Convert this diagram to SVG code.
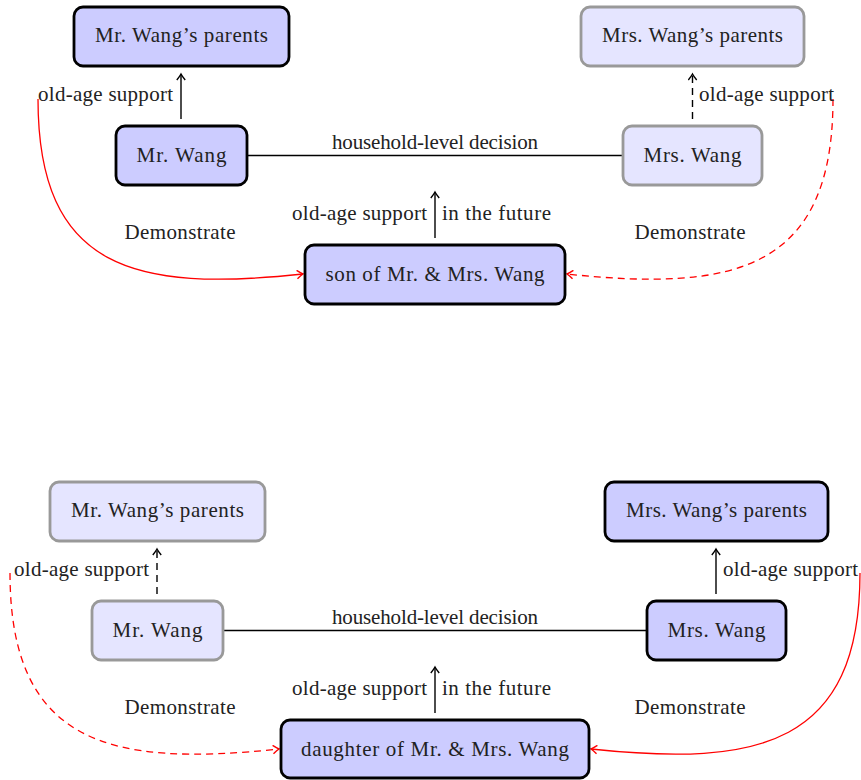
<svg xmlns="http://www.w3.org/2000/svg" width="861" height="780" viewBox="0 0 861 780">
<style>
text{font-family:'Liberation Serif','Times New Roman','DejaVu Serif',serif;font-size:21px;fill:#222}
.c{text-anchor:middle}
.e{text-anchor:end}
.dark{fill:#ccccff;stroke:#000;stroke-width:2.8}
.light{fill:#e5e5ff;stroke:#999;stroke-width:2.8}
.k{stroke:#000;stroke-width:1.4;fill:none}
.r{stroke:#ff0000;stroke-width:1.3;fill:none}
.d{stroke-dasharray:7,5}
</style>
<defs>
<marker id="ak" viewBox="-8 -5 10 10" refX="0" refY="0" markerWidth="10" markerHeight="10" orient="auto" markerUnits="userSpaceOnUse">
<path d="M-6,-4.2 Q-2,-1 0,0 Q-2,1 -6,4.2" fill="none" stroke="#000" stroke-width="1.4" stroke-dasharray="none"/>
</marker>
<marker id="ar" viewBox="-8 -5 10 10" refX="0" refY="0" markerWidth="10" markerHeight="10" orient="auto" markerUnits="userSpaceOnUse">
<path d="M-6,-4.2 Q-2,-1 0,0 Q-2,1 -6,4.2" fill="none" stroke="#ff0000" stroke-width="1.4" stroke-dasharray="none"/>
</marker>
</defs>

<g id="connectors">
<line class="k" x1="247" y1="155.5" x2="623" y2="155.5"/>
<path class="k" d="M181,119 V74" marker-end="url(#ak)"/>
<path class="k d" d="M692.5,119 V74" marker-end="url(#ak)"/>
<path class="k" d="M435,238 V192" marker-end="url(#ak)"/>
<path class="r" d="M38,99 C38,270 135,292 303,274" marker-end="url(#ar)"/>
<path class="r d" d="M833,99 C833,270 735,292 567,274" marker-end="url(#ar)"/>
<line class="k" x1="223" y1="630.5" x2="647" y2="630.5"/>
<path class="k d" d="M157,594 V549" marker-end="url(#ak)"/>
<path class="k" d="M716,594 V549" marker-end="url(#ak)"/>
<path class="k" d="M435,713 V667" marker-end="url(#ak)"/>
<path class="r d" d="M10,573 C10,745 111,767 279,749" marker-end="url(#ar)"/>
<path class="r" d="M860,573 C860,745 759,767 591,749" marker-end="url(#ar)"/>
</g>

<g id="labels">
<text x="435" y="149" class="c" textLength="206">household-level decision</text>
<text x="38" y="101" textLength="135">old-age support</text>
<text x="699" y="101" textLength="135">old-age support</text>
<text x="427" y="220" class="e" textLength="135">old-age support</text>
<text x="442" y="220" textLength="109">in the future</text>
<text x="180" y="239" class="c" textLength="111">Demonstrate</text>
<text x="690" y="239" class="c" textLength="111">Demonstrate</text>
<text x="435" y="624" class="c" textLength="206">household-level decision</text>
<text x="14" y="576" textLength="135">old-age support</text>
<text x="723" y="576" textLength="135">old-age support</text>
<text x="427" y="695" class="e" textLength="135">old-age support</text>
<text x="442" y="695" textLength="109">in the future</text>
<text x="180" y="714" class="c" textLength="111">Demonstrate</text>
<text x="690" y="714" class="c" textLength="111">Demonstrate</text>
</g>

<g id="top-mr-parents">
<rect class="dark" x="74" y="7" width="215" height="59" rx="9"/>
<text x="181.5" y="42" class="c" textLength="173">Mr. Wang’s parents</text>
</g>
<g id="top-mrs-parents">
<rect class="light" x="581" y="7" width="223" height="59" rx="9"/>
<text x="692.5" y="42" class="c" textLength="181">Mrs. Wang’s parents</text>
</g>
<g id="top-mr">
<rect class="dark" x="116" y="126" width="131" height="59" rx="9"/>
<text x="181.5" y="162" class="c" textLength="90">Mr. Wang</text>
</g>
<g id="top-mrs">
<rect class="light" x="623" y="126" width="139" height="59" rx="9"/>
<text x="692.5" y="162" class="c" textLength="98">Mrs. Wang</text>
</g>
<g id="top-son">
<rect class="dark" x="305" y="245" width="260" height="59" rx="9"/>
<text x="435" y="281" class="c" textLength="219">son of Mr. &amp; Mrs. Wang</text>
</g>

<g id="bot-mr-parents">
<rect class="light" x="50" y="482" width="215" height="59" rx="9"/>
<text x="157.5" y="517" class="c" textLength="173">Mr. Wang’s parents</text>
</g>
<g id="bot-mrs-parents">
<rect class="dark" x="605" y="482" width="223" height="59" rx="9"/>
<text x="716.5" y="517" class="c" textLength="181">Mrs. Wang’s parents</text>
</g>
<g id="bot-mr">
<rect class="light" x="92" y="601" width="131" height="59" rx="9"/>
<text x="157.5" y="637" class="c" textLength="90">Mr. Wang</text>
</g>
<g id="bot-mrs">
<rect class="dark" x="647" y="601" width="139" height="59" rx="9"/>
<text x="716.5" y="637" class="c" textLength="98">Mrs. Wang</text>
</g>
<g id="bot-daughter">
<rect class="dark" x="281" y="720" width="308" height="58" rx="9"/>
<text x="435" y="756" class="c" textLength="268">daughter of Mr. &amp; Mrs. Wang</text>
</g>
</svg>
